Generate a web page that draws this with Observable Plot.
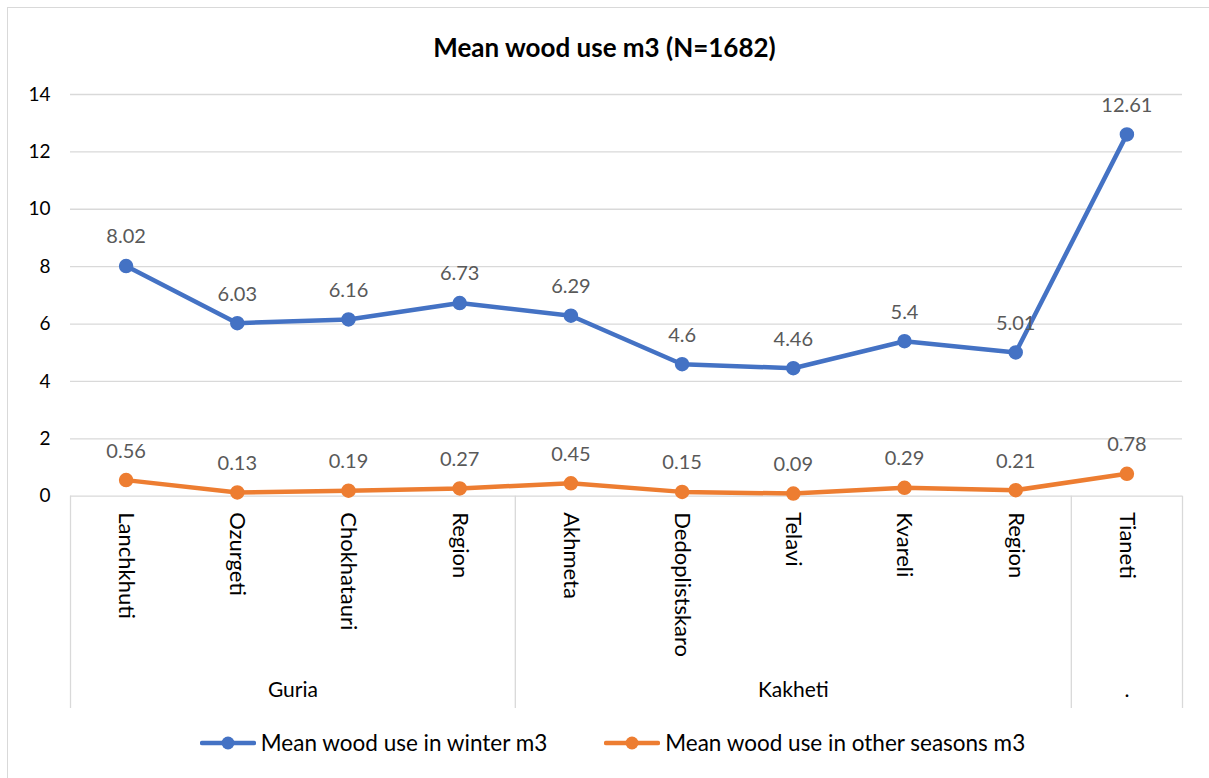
<!DOCTYPE html>
<html>
<head>
<meta charset="utf-8">
<script src="https://cdn.jsdelivr.net/npm/d3@7"></script>
<script src="https://cdn.jsdelivr.net/npm/@observablehq/plot@0.6"></script>
<style>
  body { margin: 0; background: #fff; font-family: Lato, "Open Sans", sans-serif; }
  #wrap { position: relative; width: 1209px; height: 778px; overflow: hidden; }
  #frame { position: absolute; left: 7px; top: 7px; width: 1210px; height: 800px; border: 1px solid #d9d9d9; box-sizing: border-box; }
  #title { position: absolute; left: 0; top: 31px; width: 1209px; text-align: center; font-weight: bold; font-size: 26px; line-height: 32px; color: #000; }
  #chart { position: absolute; left: 0; top: 70px; }
  #legend { position: absolute; left: 8px; top: 728px; width: 1209px; display: flex; justify-content: center; gap: 57px; font-size: 22.5px; line-height: 30px; color: #000; }
  .item { display: flex; align-items: center; }
  .item svg { margin-right: 5px; }
</style>
</head>
<body>
<div id="wrap">
  <div id="frame"></div>
  <div id="title">Mean wood use m3 (N=1682)</div>
  <div id="chart"></div>
  <div id="legend"></div>
</div>
<script>
const categories = ["Lanchkhuti", "Ozurgeti", "Chokhatauri", "Region", "Akhmeta", "Dedoplistskaro", "Telavi", "Kvareli", "Region", "Tianeti"];
const groups = ["Guria", "Guria", "Guria", "Guria", "Kakheti", "Kakheti", "Kakheti", "Kakheti", "Kakheti", "."];
const winter = [8.02, 6.03, 6.16, 6.73, 6.29, 4.6, 4.46, 5.4, 5.01, 12.61];
const other = [0.56, 0.13, 0.19, 0.27, 0.45, 0.15, 0.09, 0.29, 0.21, 0.78];
const yTicks = [0, 2, 4, 6, 8, 10, 12, 14];
const seriesNames = ["Mean wood use in winter m3", "Mean wood use in other seasons m3"];
const colors = ["#4472C4", "#ED7D31"];

const yBottom = -7.4; // extent of the category-label area below zero

const rows = categories.map((c, i) => ({i, cat: c, group: groups[i], winter: winter[i], other: other[i]}));

// group spans
const groupSpans = [];
groups.forEach((g, i) => {
  const last = groupSpans[groupSpans.length - 1];
  if (last && last.name === g) last.end = i;
  else groupSpans.push({name: g, start: i, end: i});
});
const boundaries = [groupSpans[0].start - 0.5, ...groupSpans.map(s => s.end + 0.5)];

const series = [winter, other];

const marks = [
  Plot.ruleY(yTicks, {stroke: "#d9d9d9", strokeWidth: 1.3}),
  Plot.ruleX(boundaries, {y1: yBottom, y2: 0, stroke: "#d9d9d9", strokeWidth: 1.3}),
  Plot.axisY(yTicks, {tickSize: 0, tickPadding: 20, fontSize: 19, fill: "#000", anchor: "left", label: null}),
  Plot.text(rows, {x: "i", y: 0, text: "cat", rotate: 90, textAnchor: "start", dy: 16, fontSize: 22, fill: "#000"}),
  Plot.text(groupSpans, {x: d => (d.start + d.end) / 2, y: yBottom, text: "name", dy: -18, fontSize: 21, fill: "#000"})
];
series.forEach((vals, s) => {
  const data = vals.map((v, i) => ({i, v}));
  marks.push(Plot.lineY(data, {x: "i", y: "v", stroke: colors[s], strokeWidth: 4.5}));
  marks.push(Plot.dot(data, {x: "i", y: "v", r: 6.5, fill: colors[s], stroke: colors[s]}));
  marks.push(Plot.text(data, {x: "i", y: "v", text: d => String(d.v), dy: -29, fontSize: 20, fill: "#595959"}));
});

const chart = Plot.plot({
  width: 1209,
  height: 640,
  marginTop: 24,
  marginBottom: 2,
  marginLeft: 70,
  marginRight: 27,
  x: {domain: [-0.5, categories.length - 0.5], axis: null},
  y: {domain: [yBottom, 14], axis: null},
  style: {fontFamily: "Lato, 'Open Sans', sans-serif", background: "transparent", overflow: "visible"},
  marks
});
document.getElementById("chart").appendChild(chart);

const legend = document.getElementById("legend");
seriesNames.forEach((name, s) => {
  const item = document.createElement("div");
  item.className = "item";
  const w = 56;
  item.innerHTML = `<svg width="${w}" height="16"><line x1="2" x2="${w-2}" y1="8" y2="8" stroke="${colors[s]}" stroke-width="4.5" stroke-linecap="round"/><circle cx="${w/2}" cy="8" r="6.5" fill="${colors[s]}"/></svg><span>${name}</span>`;
  legend.appendChild(item);
});
</script>
</body>
</html>
